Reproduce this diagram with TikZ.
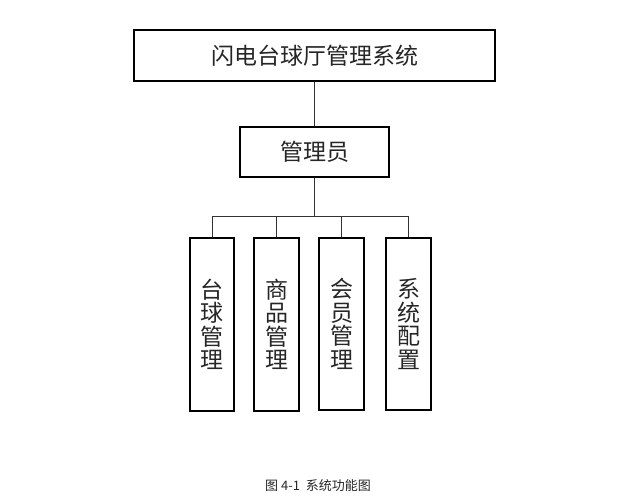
\documentclass[tikz,border=0pt]{standalone}
\usepackage{fontspec}
\newfontfamily\cjk{Noto Sans CJK SC}[FakeBold=0]
\begin{document}
\begin{tikzpicture}[x=1pt,y=-1pt,
  box/.style={draw=black,line width=1.6pt,inner sep=0pt},
  link/.style={draw=black!80,line width=0.9pt},
  lbl/.style={font=\cjk\fontsize{23}{23.5}\selectfont,align=center,text=black!85}]
\useasboundingbox[fill=white] (0,0) rectangle (618,502);
% top
\node[box,minimum width=361pt,minimum height=51pt] (sys) at (314.5,55.5) {};
\node[lbl] (syst) at (sys.center) {闪电台球厅管理系统};
\node[box,minimum width=149pt,minimum height=50pt] (adm) at (314.5,152) {};
\node[lbl] (admt) at (adm.center) {管理员};
% boxes
\node[box,minimum width=44pt,minimum height=173pt] (b1) at (212,324.5) {};
\node[box,minimum width=45pt,minimum height=173pt] (b2) at (276.5,324.5) {};
\node[box,minimum width=45pt,minimum height=172pt] (b3) at (341.5,324) {};
\node[box,minimum width=45pt,minimum height=172pt] (b4) at (408.5,324) {};
\node[lbl] at (b1.center) {台\\球\\管\\理};
\node[lbl] at (b2.center) {商\\品\\管\\理};
\node[lbl] at (b3.center) {会\\员\\管\\理};
\node[lbl] at (b4.center) {系\\统\\配\\置};
% connectors
\coordinate (j) at (314.5,216);
\coordinate (h1) at (212,216);
\coordinate (h2) at (276.5,216);
\coordinate (h3) at (341.5,216);
\coordinate (h4) at (408.5,216);
\draw[link] (sys.south) -- (adm.north);
\draw[link] (adm.south) -- (j);
\draw[link] (h1) -- (h4);
\draw[link] (h1) -- (b1.north);
\draw[link] (h2) -- (b2.north);
\draw[link] (h3) -- (b3.north);
\draw[link] (h4) -- (b4.north);
% caption
\node[font=\cjk\fontsize{13}{15}\selectfont,text=black!85] (cap) at (318,486) {图 4-1\ \ 系统功能图};
\end{tikzpicture}
\end{document}
